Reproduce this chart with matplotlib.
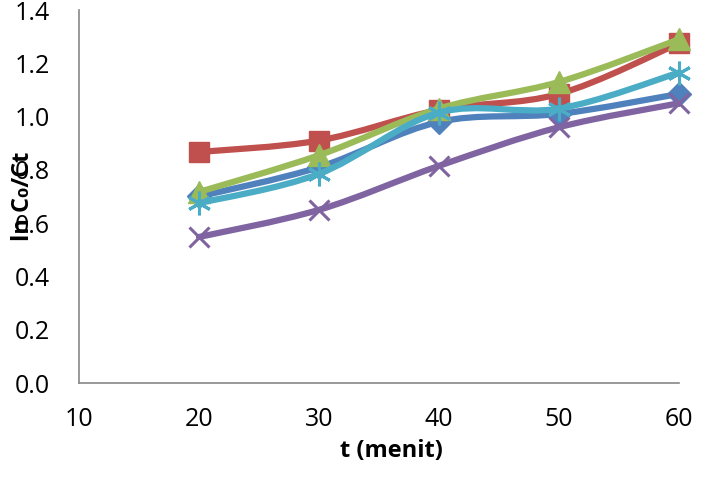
import numpy as np
import matplotlib
matplotlib.use("Agg")
import matplotlib.pyplot as plt
from matplotlib.path import Path
from matplotlib.patches import PathPatch

plt.rcParams['font.family'] = ['Open Sans', 'DejaVu Sans']

t = [20, 30, 40, 50, 60]
s_blue = [0.70, 0.81, 0.98, 1.01, 1.085]
s_red = [0.867, 0.91, 1.025, 1.085, 1.275]
s_green = [0.717, 0.855, 1.03, 1.13, 1.29]
s_purple = [0.548, 0.65, 0.815, 0.96, 1.05]
s_cyan = [0.675, 0.785, 1.015, 1.03, 1.165]

x_ticks = [10, 20, 30, 40, 50, 60]
y_ticks = [0.0, 0.2, 0.4, 0.6, 0.8, 1.0, 1.2, 1.4]
x_label = "t (menit)"
y_label = "ln C\u2080/Ct"

series = [
    (s_blue, '#4F81BD', 'D', 12),
    (s_red, '#C0504D', 's', 15),
    (s_green, '#9BBB59', '^', 16),
    (s_purple, '#8064A2', 'x', 15),
    (s_cyan, '#4BACC6', (6, 2, 0), 17),
]

fig = plt.figure(figsize=(7.13, 4.90), dpi=100)
ax = fig.add_axes([79/713, 1-383/490, 600/713, 373/490])


def smooth_path(xs, ys):
    pts = np.column_stack([xs, ys]).astype(float)
    n = len(pts)
    verts = [pts[0]]
    codes = [Path.MOVETO]
    for i in range(n - 1):
        p0 = pts[i - 1] if i > 0 else pts[i]
        p1 = pts[i]
        p2 = pts[i + 1]
        p3 = pts[i + 2] if i + 2 < n else pts[i + 1]
        c1 = p1 + (p2 - p0) / 6.0
        c2 = p2 - (p3 - p1) / 6.0
        verts += [c1, c2, p2]
        codes += [Path.CURVE4] * 3
    return Path(verts, codes)


for z, (ys, col, mk, ms) in enumerate(series):
    patch = PathPatch(smooth_path(t, ys), facecolor='none', edgecolor=col,
                      lw=4.5, zorder=2 + z * 2, capstyle='round', joinstyle='round',
                      clip_on=False)
    ax.add_patch(patch)
    mew = 2.2 if mk in ('x',) or isinstance(mk, tuple) else 1
    ax.plot(t, ys, linestyle='none', marker=mk, markersize=ms, color=col,
            markeredgecolor=col, markeredgewidth=mew, zorder=3 + z * 2,
            clip_on=False)

ax.set_xlim(10, 60)
ax.set_ylim(0, 1.4)
ax.set_xticks(x_ticks)
ax.set_yticks(y_ticks)
ax.set_xticklabels([str(v) for v in x_ticks])
ax.set_yticklabels([f"{v:.1f}" for v in y_ticks])
ax.tick_params(axis='both', length=0, labelsize=18, colors='#000000')
ax.tick_params(axis='x', pad=17)
ax.tick_params(axis='y', pad=21)
for sp in ['top', 'right']:
    ax.spines[sp].set_visible(False)
for sp in ['left', 'bottom']:
    ax.spines[sp].set_color('#888888')
    ax.spines[sp].set_linewidth(1.2)

fig.text(391/713, 1-451/490, x_label, ha='center', va='center',
         fontsize=17, fontweight='bold')
fig.text(23/713, 1-196/490, y_label, ha='center', va='center',
         fontsize=17, fontweight='bold', rotation=90)

fig.savefig('out.png', dpi=100)
